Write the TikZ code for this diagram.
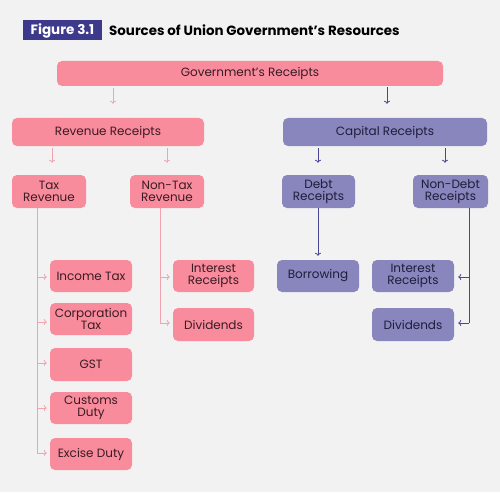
\documentclass[tikz,border=0pt]{standalone}
\usepackage{fontspec}
\setmainfont{Poppins}
\usetikzlibrary{arrows.meta}
\definecolor{bgc}{HTML}{F2F2F2}
\definecolor{pinkbox}{HTML}{F88C9C}
\definecolor{pinkline}{HTML}{F2A3B0}
\definecolor{pinktext}{HTML}{3A1A24}
\definecolor{purpbox}{HTML}{8886BC}
\definecolor{purpline}{HTML}{4A4590}
\definecolor{purptext}{HTML}{1F1C3C}
\definecolor{titlebox}{HTML}{3D3A8C}
\tikzset{
  box/.style={rounded corners=5pt, inner sep=0pt, align=center,
    font=\fontsize{12}{12.5}\selectfont},
  pbox/.style={box, fill=pinkbox, text=pinktext},
  vbox/.style={box, fill=purpbox, text=purptext},
  plink/.style={draw=pinkline, line width=0.8pt, -{To[length=3pt,width=6pt]}},
  vlink/.style={draw=purpline, line width=0.8pt, -{To[length=3pt,width=6pt]}},
}
% place a box by its left/top/right/bottom edges (pixel units, y downwards)
\newcommand{\boxat}[7]{%
  \node[#1, minimum width=#5-#3, minimum height=#6-#4] (#2) at ({(#3+#5)/2},{(#4+#6)/2}) {#7};}
\begin{document}
\begin{tikzpicture}[x=1pt,y=-1pt]
\fill[bgc] (0,0) rectangle (500,492);
\useasboundingbox (0,0) rectangle (500,492);

% heading
\node[fill=titlebox, text=white, font=\bfseries\fontsize{13.5}{14}\selectfont,
  minimum width=79pt, minimum height=20pt, inner sep=0pt] (fig) at (62.5,30.5) {Figure 3.1};
\node[anchor=west, font=\bfseries\fontsize{13.4}{14}\selectfont, inner sep=0pt]
  (title) at (109,30.5) {Sources of Union Government’s Resources};

% boxes
\boxat{pbox}{gr}{57}{61}{443}{86}{Government’s Receipts}
\boxat{pbox}{rr}{12}{118}{204}{146}{Revenue Receipts}
\boxat{vbox}{cr}{283}{118}{487}{146}{Capital Receipts}
\boxat{pbox}{tr}{12}{175}{86}{208}{Tax\\Revenue}
\boxat{pbox}{ntr}{130}{175}{204}{208}{Non-Tax\\Revenue}
\boxat{vbox}{dr}{282}{175}{355}{208}{Debt\\Receipts}
\boxat{vbox}{ndr}{413}{175}{488}{208}{Non-Debt\\Receipts}

\boxat{pbox}{it}{50}{260}{132}{292}{Income Tax}
\boxat{pbox}{ct}{50}{303}{132}{335}{Corporation\\Tax}
\boxat{pbox}{gst}{50}{348}{132}{381}{GST}
\boxat{pbox}{cd}{50}{392}{132}{424}{Customs\\Duty}
\boxat{pbox}{ed}{50}{438}{132}{470}{Excise Duty}

\boxat{pbox}{ir}{173}{260}{254}{292}{Interest\\Receipts}
\boxat{pbox}{dv}{173}{308}{254}{341}{Dividends}

\boxat{vbox}{bw}{277}{260}{359}{292}{Borrowing}

\boxat{vbox}{ir2}{372}{260}{454}{292}{Interest\\Receipts}
\boxat{vbox}{dv2}{372}{308}{454}{341}{Dividends}

% first level arrows
\draw[plink] ([yshift=-2pt]gr.south -| 113,0) -- ([yshift=14pt]rr.north -| 113,0);
\draw[vlink] ([yshift=-1pt]gr.south -| 387,0) -- ([yshift=14pt]cr.north -| 387,0);
\draw[plink] ([yshift=-2pt]rr.south -| 52,0) -- ([yshift=12pt]tr.north -| 52,0);
\draw[plink] ([yshift=-2pt]rr.south -| 167,0) -- ([yshift=12pt]ntr.north -| 167,0);
\draw[vlink] ([yshift=-2pt]cr.south -| 318,0) -- ([yshift=12pt]dr.north -| 318,0);
\draw[vlink] ([yshift=-2pt]cr.south -| 445,0) -- ([yshift=12pt]ndr.north -| 445,0);

% tax revenue branches
\draw[pinkline, line width=0.8pt] (tr.south -| 37,0) -- (37,453);
\foreach \n/\y in {it/277, ct/322, gst/363, cd/408, ed/453}
  \draw[plink] (37,\y) -- ([xshift=-3pt]\n.west |- 0,\y);

% non-tax revenue branches
\draw[pinkline, line width=0.8pt] (ntr.south -| 160,0) -- (160,323);
\foreach \n/\y in {ir/277, dv/323}
  \draw[plink] (160,\y) -- ([xshift=-3pt]\n.west |- 0,\y);

% debt receipts
\draw[vlink] (dr.south -| 318,0) -- ([yshift=4pt]bw.north -| 318,0);

% non-debt receipts branches
\draw[purpline, line width=0.8pt] (ndr.south -| 469,0) -- (469,323);
\foreach \n/\y in {ir2/277, dv2/323}
  \draw[vlink] (469,\y) -- ([xshift=4pt]\n.east |- 0,\y);
\end{tikzpicture}
\end{document}
